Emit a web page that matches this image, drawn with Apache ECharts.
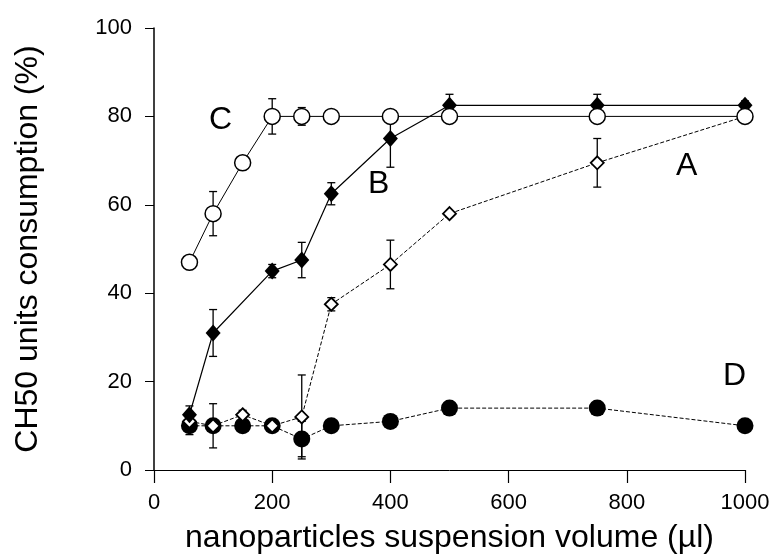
<!DOCTYPE html>
<html>
<head>
<meta charset="utf-8">
<script src="https://cdn.jsdelivr.net/npm/echarts@6/dist/echarts.min.js"></script>
<style>
html,body{margin:0;padding:0;background:#fff;}
#chart{width:784px;height:559px;}
</style>
</head>
<body>
<div id="chart"></div>
<script>
// ---- data ----
const volumes = [60, 100, 150, 200, 250, 300, 400, 500, 750, 1000];
const seriesA = [11, 10, 12.5, 10, 12, 37.5, 46.5, 58, 69.5, 80];
const errA    = [0, 0, 1, 0, 9.5, 1.5, 5.5, 0, 5.5, 1];
const volumesB = [60, 100, 200, 250, 300, 400, 500, 750, 1000];
const seriesB = [12.5, 31, 45, 47.5, 62.5, 75, 82.5, 82.5, 82.5];
const errB    = [2, 5.3, 1.5, 4, 2.5, 6.5, 2.5, 2.5, 1];
const seriesC = [47, 58, 69.5, 80, 80, 80, 80, 80, 80, 80];
const errC    = [0, 5, 0, 4, 2, 0, 0, 0, 0, 0];
const seriesD = [10, 10, 10, 10, 7, 10, 11, 14, 14, 10];
const errD    = [2, 5, 1, 0, 4, 0, 0, 0, 0, 0];
const xTicks = [0, 200, 400, 600, 800, 1000];
const yTicks = [0, 20, 40, 60, 80, 100];
const curveNames = ['A', 'B', 'C', 'D'];

function pairs(xs, ys) { return xs.map((x, i) => [x, ys[i]]); }
function errPairs(xs, ys, es) {
  return xs.map((x, i) => [x, ys[i], es[i]]).filter(d => d[2] > 0);
}

const FONT = '"Liberation Sans", Arial, Helvetica, sans-serif';

function renderErr(params, api) {
  const x = api.value(0), y = api.value(1), e = api.value(2);
  const top = api.coord([x, y + e]);
  const bot = api.coord([x, y - e]);
  const cap = 4;
  const st = { stroke: '#000', lineWidth: 1.3 };
  return {
    type: 'group',
    children: [
      { type: 'line', shape: { x1: top[0], y1: top[1], x2: bot[0], y2: bot[1] }, style: st },
      { type: 'line', shape: { x1: top[0] - cap, y1: top[1], x2: top[0] + cap, y2: top[1] }, style: st },
      { type: 'line', shape: { x1: bot[0] - cap, y1: bot[1], x2: bot[0] + cap, y2: bot[1] }, style: st }
    ]
  };
}

function errSeries(data) {
  return { type: 'custom', renderItem: renderErr, data: data, z: 1, silent: true };
}

const chart = echarts.init(document.getElementById('chart'), null, { renderer: 'canvas' });

const option = {
  backgroundColor: '#fff',
  animation: false,
  grid: { left: 154, right: 39, top: 28, bottom: 86 },
  xAxis: {
    type: 'value', min: xTicks[0], max: xTicks[xTicks.length - 1], interval: 200,
    name: 'nanoparticles suspension volume (µl)',
    nameLocation: 'middle', nameGap: 52,
    nameTextStyle: { fontFamily: FONT, fontSize: 32, color: '#000' },
    axisLine: { lineStyle: { color: '#000', width: 1 } },
    axisTick: { show: true, length: 13, lineStyle: { color: '#000', width: 1.2 } },
    axisLabel: { color: '#000', fontFamily: FONT, fontSize: 22, margin: 22, formatter: v => String(v) },
    splitLine: { show: false }
  },
  yAxis: {
    type: 'value', min: yTicks[0], max: yTicks[yTicks.length - 1], interval: 20,
    name: 'CH50 units consumption (%)',
    nameLocation: 'middle', nameGap: 110, nameRotate: 90,
    nameTextStyle: { fontFamily: FONT, fontSize: 32, color: '#000' },
    axisLine: { lineStyle: { color: '#000', width: 1.5 } },
    axisTick: { show: true, length: 9, lineStyle: { color: '#000', width: 1 } },
    axisLabel: { color: '#000', fontFamily: FONT, fontSize: 22, margin: 22, formatter: v => String(v) },
    splitLine: { show: false }
  },
  graphic: [
    { type: 'text', left: 676, top: 150, style: { text: curveNames[0], font: '32px ' + FONT, fill: '#000' } },
    { type: 'text', left: 368, top: 168, style: { text: curveNames[1], font: '32px ' + FONT, fill: '#000' } },
    { type: 'text', left: 209, top: 104, style: { text: curveNames[2], font: '32px ' + FONT, fill: '#000' } },
    { type: 'text', left: 723, top: 360, style: { text: curveNames[3], font: '32px ' + FONT, fill: '#000' } }
  ],
  series: [
    errSeries(errPairs(volumes, seriesD, errD)),
    errSeries(errPairs(volumes, seriesA, errA)),
    errSeries(errPairs(volumesB, seriesB, errB)),
    errSeries(errPairs(volumes, seriesC, errC)),
    {
      name: 'D', type: 'line', data: pairs(volumes, seriesD), z: 2,
      symbol: 'circle', symbolSize: 17,
      itemStyle: { color: '#000', borderColor: '#000', borderWidth: 0 },
      lineStyle: { color: '#000', width: 1, type: [4, 2] }
    },
    {
      name: 'A', type: 'line', data: pairs(volumes, seriesA), z: 3,
      symbol: 'diamond', symbolSize: 13,
      itemStyle: { color: '#fff', borderColor: '#000', borderWidth: 1.8 },
      lineStyle: { color: '#000', width: 1, type: [4, 2] }
    },
    {
      name: 'B', type: 'line', data: pairs(volumesB, seriesB), z: 4,
      symbol: 'diamond', symbolSize: [15, 17],
      itemStyle: { color: '#000', borderColor: '#000', borderWidth: 0 },
      lineStyle: { color: '#000', width: 1.2 }
    },
    {
      name: 'C', type: 'line', data: pairs(volumes, seriesC), z: 5,
      symbol: 'circle', symbolSize: 16,
      itemStyle: { color: '#fff', borderColor: '#000', borderWidth: 1.5 },
      lineStyle: { color: '#000', width: 1 }
    }
  ]
};
chart.setOption(option);
</script>
</body>
</html>
